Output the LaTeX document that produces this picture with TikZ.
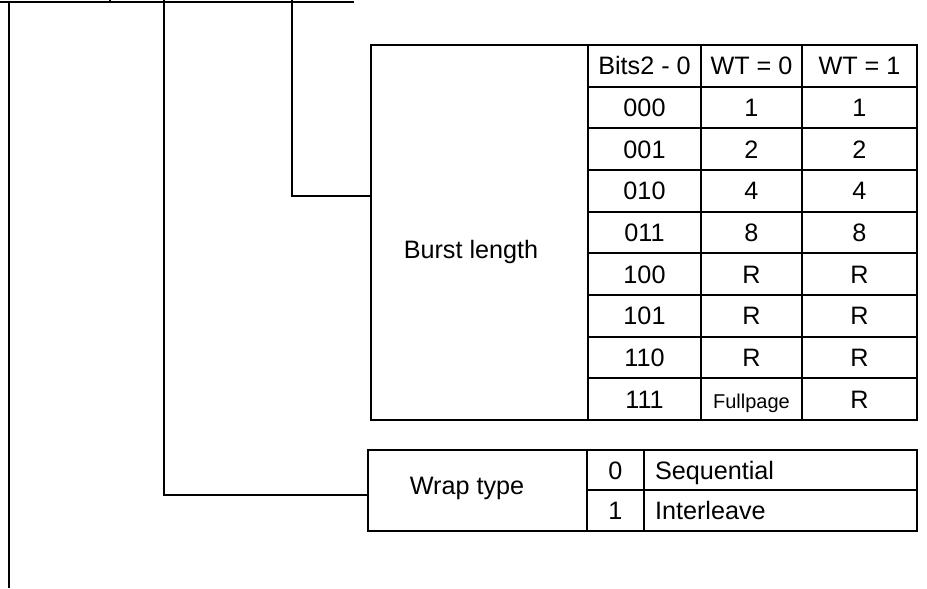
\documentclass[tikz,border=0pt]{standalone}
\usepackage{fontspec}
\setmainfont{Liberation Sans}
\usetikzlibrary{positioning}
\newcommand{\fullsz}{\fontsize{10pt}{11pt}\selectfont}
\begin{document}
\begin{tikzpicture}[x=0.5pt,y=-0.5pt,line width=1pt,font=\fontsize{12.6pt}{14pt}\selectfont,
        box/.style={draw,line width=1pt,inner sep=0pt},
        cell/.style={draw,line width=1pt,inner sep=0pt,text height=9pt,text depth=0pt,
            minimum width=#1,minimum height=20.83pt}]
        \useasboundingbox (0,0) rectangle (927,589);
        % burst length table
        \node[box,minimum width=108.5pt,minimum height=187.5pt] (burst) at (479.5,232.5) {};
        \node (burstlbl) at (471,252) {Burst length};
        \foreach \i/\a/\b/\c in {0/{Bits2 - 0}/{WT = 0}/{WT = 1},1/000/1/1,2/001/2/2,3/010/4/4,4/011/8/8,
                5/100/R/R,6/101/R/R,7/110/R/R,8/111/{\fullsz Fullpage}/R} {
            \node[cell=56.5pt] (bits\i) at (644.5,{45+41.67*(\i+0.5)}) {\a};
            \node[cell=50.5pt] (wtz\i) at (751.5,{45+41.67*(\i+0.5)}) {\b};
            \node[cell=57.5pt] (wto\i) at (859.5,{45+41.67*(\i+0.5)}) {\c};
        }
        % wrap type table
        \node[box,minimum width=109.5pt,minimum height=40.5pt] (wrap) at (477.5,490.5) {};
        \node (wraplbl) at (467,488) {Wrap type};
        \node[cell=28.5pt,minimum height=20pt] (wb0) at (615.5,470) {0};
        \node[cell=28.5pt,minimum height=20.5pt] (wb1) at (615.5,510.5) {1};
        \node[cell=136.5pt,minimum height=20pt,text width=125.5pt,inner xsep=5.5pt,align=left] (wn0) at (780.5,470) {Sequential};
        \node[cell=136.5pt,minimum height=20.5pt,text width=125.5pt,inner xsep=5.5pt,align=left] (wn1) at (780.5,510.5) {Interleave};
        % bus and drops
        \coordinate (bus0) at (0,1.5);
        \coordinate (bus1) at (354,1.5);
        \coordinate (tick) at (110,0);
        \coordinate (drop0) at (9,1.5);
        \coordinate (end0) at (9,588);
        \coordinate (drop1) at (164,0);
        \coordinate (wrapin) at (368,495);
        \coordinate (drop2) at (292,0);
        \coordinate (burstin) at (371,196);
        \draw (bus0) -- (bus1);
        \draw (tick) -- ++(0,2);
        \draw (drop0) -- (end0);
        \draw (drop1) |- (wrapin);
        \draw (drop2) |- (burstin);
    \end{tikzpicture}
\end{document}
